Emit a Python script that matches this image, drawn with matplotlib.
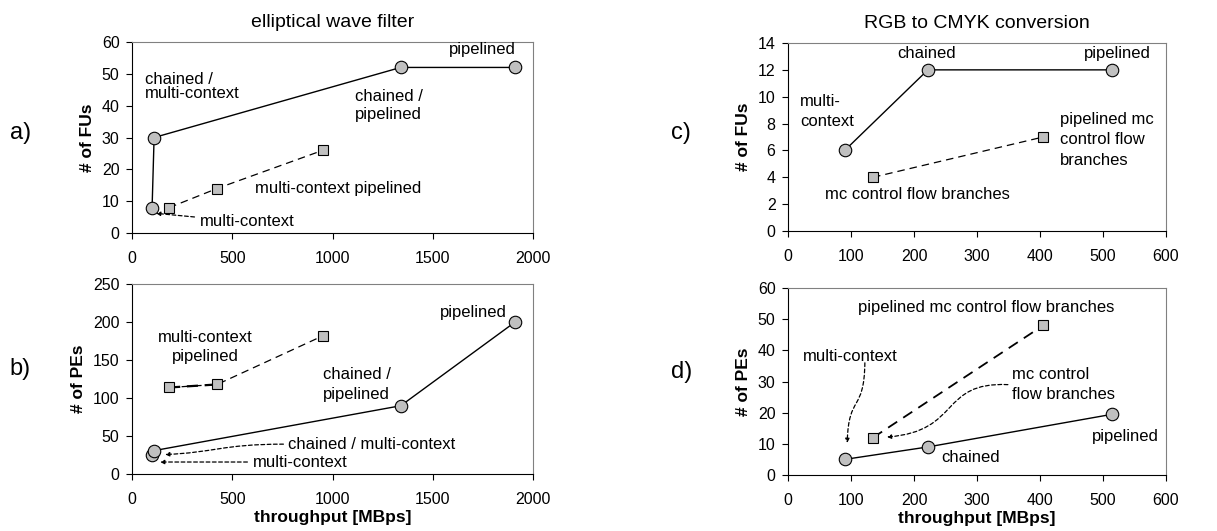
import matplotlib
matplotlib.use("Agg")
import matplotlib.pyplot as plt
from matplotlib.patches import FancyArrowPatch
from matplotlib.path import Path

plt.rcParams["font.family"] = ["Liberation Sans", "DejaVu Sans"]

# elliptical wave filter
ewf_circle_x = [100, 110, 1340, 1910]
ewf_fu_circle = [8, 30, 52, 52]
ewf_pe_circle = [25, 31, 90, 200]
ewf_square_x = [185, 424, 952]
ewf_fu_square = [8, 14, 26]
ewf_pe_square = [114, 118, 182]

# RGB to CMYK conversion
rgb_circle_x = [90, 222, 515]
rgb_fu_circle = [6, 12, 12]
rgb_pe_circle = [5, 9, 19.5]
rgb_square_x = [135, 405]
rgb_fu_square = [4, 7]
rgb_pe_square = [12, 48]

ewf_xticks = [0, 500, 1000, 1500, 2000]
rgb_xticks = [0, 100, 200, 300, 400, 500, 600]

TEXT = 12
TICK = 11.5
LABEL = 12.5
GRAY = "#c0c0c0"


def style_axes(ax, xticks, yticks):
    ax.set_xlim(xticks[0], xticks[-1])
    ax.set_ylim(yticks[0], yticks[-1])
    ax.set_xticks(xticks)
    ax.set_yticks(yticks)
    ax.tick_params(direction="out", length=4, width=0.8, labelsize=TICK)
    ax.tick_params(axis="x", pad=9)
    ax.tick_params(axis="y", pad=5)
    for side in ("top", "right"):
        ax.spines[side].set_color("#808080")
    for side in ("left", "bottom"):
        ax.spines[side].set_color("black")


def draw_series(ax, cx, cy, sx, sy, sq_lw=0.9):
    ax.plot(cx, cy, color="black", lw=1.0, marker="o", ms=9,
            mfc=GRAY, mec="black", mew=0.8, zorder=3)
    ax.plot(sx, sy, color="black", lw=sq_lw, ls=(0, (6, 4)), marker="s", ms=6.5,
            mfc=GRAY, mec="black", mew=0.8, zorder=3)


def label(ax, x, y, text, ha="left", ls=1.45):
    ax.text(x, y, text, fontsize=TEXT, ha=ha, va="center", linespacing=ls)


def arrow(ax, text, xy, xytext, rad=0.0, ha="left"):
    ax.annotate(text, xy=xy, xytext=xytext, fontsize=TEXT, ha=ha, va="center",
                arrowprops=dict(arrowstyle="-|>", ls=(0, (3, 2)), lw=0.9, color="black",
                                mutation_scale=6, shrinkA=2, shrinkB=0,
                                connectionstyle=f"arc3,rad={rad}"))


def curve_arrow(ax, points):
    path = Path(points, [Path.MOVETO, Path.CURVE4, Path.CURVE4, Path.CURVE4])
    patch = FancyArrowPatch(path=path, arrowstyle="-|>", ls=(0, (3, 2)), lw=0.9,
                            color="black", mutation_scale=6, transform=ax.transData)
    ax.add_patch(patch)


fig = plt.figure(figsize=(12.17, 5.31), dpi=100)

ax_a = fig.add_axes([0.1085, 0.561, 0.3295, 0.36])
ax_b = fig.add_axes([0.1085, 0.107, 0.3295, 0.358])
ax_c = fig.add_axes([0.6475, 0.565, 0.3106, 0.354])
ax_d = fig.add_axes([0.6475, 0.1055, 0.3106, 0.352])

# a)
draw_series(ax_a, ewf_circle_x, ewf_fu_circle, ewf_square_x, ewf_fu_square)
style_axes(ax_a, ewf_xticks, [0, 10, 20, 30, 40, 50, 60])
ax_a.set_title("elliptical wave filter", fontsize=14, pad=11)
ax_a.set_ylabel("# of FUs", fontsize=LABEL, fontweight="bold", labelpad=5)
label(ax_a, 65, 46, "chained /\nmulti-context", ls=0.98)
label(ax_a, 1112, 40, "chained /\npipelined", ls=1.22)
label(ax_a, 1581, 57.5, "pipelined")
label(ax_a, 613, 14.1, "multi-context pipelined")
arrow(ax_a, "multi-context", (120, 6.2), (339, 3.5), rad=0.0)

# b)
draw_series(ax_b, ewf_circle_x, ewf_pe_circle, ewf_square_x, ewf_pe_square)
ax_b.plot(ewf_square_x[:2], ewf_pe_square[:2], color="black", lw=1.6, ls=(0, (5, 3)), zorder=2)
style_axes(ax_b, ewf_xticks, [0, 50, 100, 150, 200, 250])
ax_b.set_ylabel("# of PEs", fontsize=LABEL, fontweight="bold", labelpad=5)
ax_b.set_xlabel("throughput [MBps]", fontsize=LABEL, fontweight="bold", labelpad=2)
label(ax_b, 364, 167, "multi-context\npipelined", ha="center", ls=1.38)
label(ax_b, 953, 118, "chained /\npipelined", ls=1.45)
label(ax_b, 1870, 212, "pipelined", ha="right")
label(ax_b, 778, 39.5, "chained / multi-context")
curve_arrow(ax_b, [(755, 39.5), (450, 39.5), (400, 28), (165, 26)])
arrow(ax_b, "multi-context", (140, 16), (603, 16), rad=0.0)

# c)
draw_series(ax_c, rgb_circle_x, rgb_fu_circle, rgb_square_x, rgb_fu_square)
style_axes(ax_c, rgb_xticks, [0, 2, 4, 6, 8, 10, 12, 14])
ax_c.set_title("RGB to CMYK conversion", fontsize=14, pad=11)
ax_c.set_ylabel("# of FUs", fontsize=LABEL, fontweight="bold", labelpad=5)
label(ax_c, 19, 8.9, "multi-\ncontext")
label(ax_c, 220, 13.25, "chained", ha="center")
label(ax_c, 522, 13.25, "pipelined", ha="center")
label(ax_c, 432, 6.8, "pipelined mc\ncontrol flow\nbranches")
label(ax_c, 59, 2.7, "mc control flow branches")

# d)
draw_series(ax_d, rgb_circle_x, rgb_pe_circle, rgb_square_x, rgb_pe_square, sq_lw=1.3)
style_axes(ax_d, rgb_xticks, [0, 10, 20, 30, 40, 50, 60])
ax_d.set_ylabel("# of PEs", fontsize=LABEL, fontweight="bold", labelpad=5)
ax_d.set_xlabel("throughput [MBps]", fontsize=LABEL, fontweight="bold", labelpad=2)
label(ax_d, 111, 53.9, "pipelined mc control flow branches")
label(ax_d, 356, 29, "mc control\nflow branches")
label(ax_d, 244, 5.5, "chained")
label(ax_d, 482, 12.2, "pipelined")
label(ax_d, 24, 37.9, "multi-context")
curve_arrow(ax_d, [(122, 36), (121, 20), (96, 26), (94, 10.3)])
curve_arrow(ax_d, [(349, 29), (240, 30), (275, 14), (157, 12.2)])

# panel labels
for name, y in (("a)", 0.75), ("b)", 0.305)):
    fig.text(0.008, y, name, fontsize=17, va="center")
for name, y in (("c)", 0.75), ("d)", 0.30)):
    fig.text(0.551, y, name, fontsize=17, va="center")

fig.savefig("out.png", dpi=100)
